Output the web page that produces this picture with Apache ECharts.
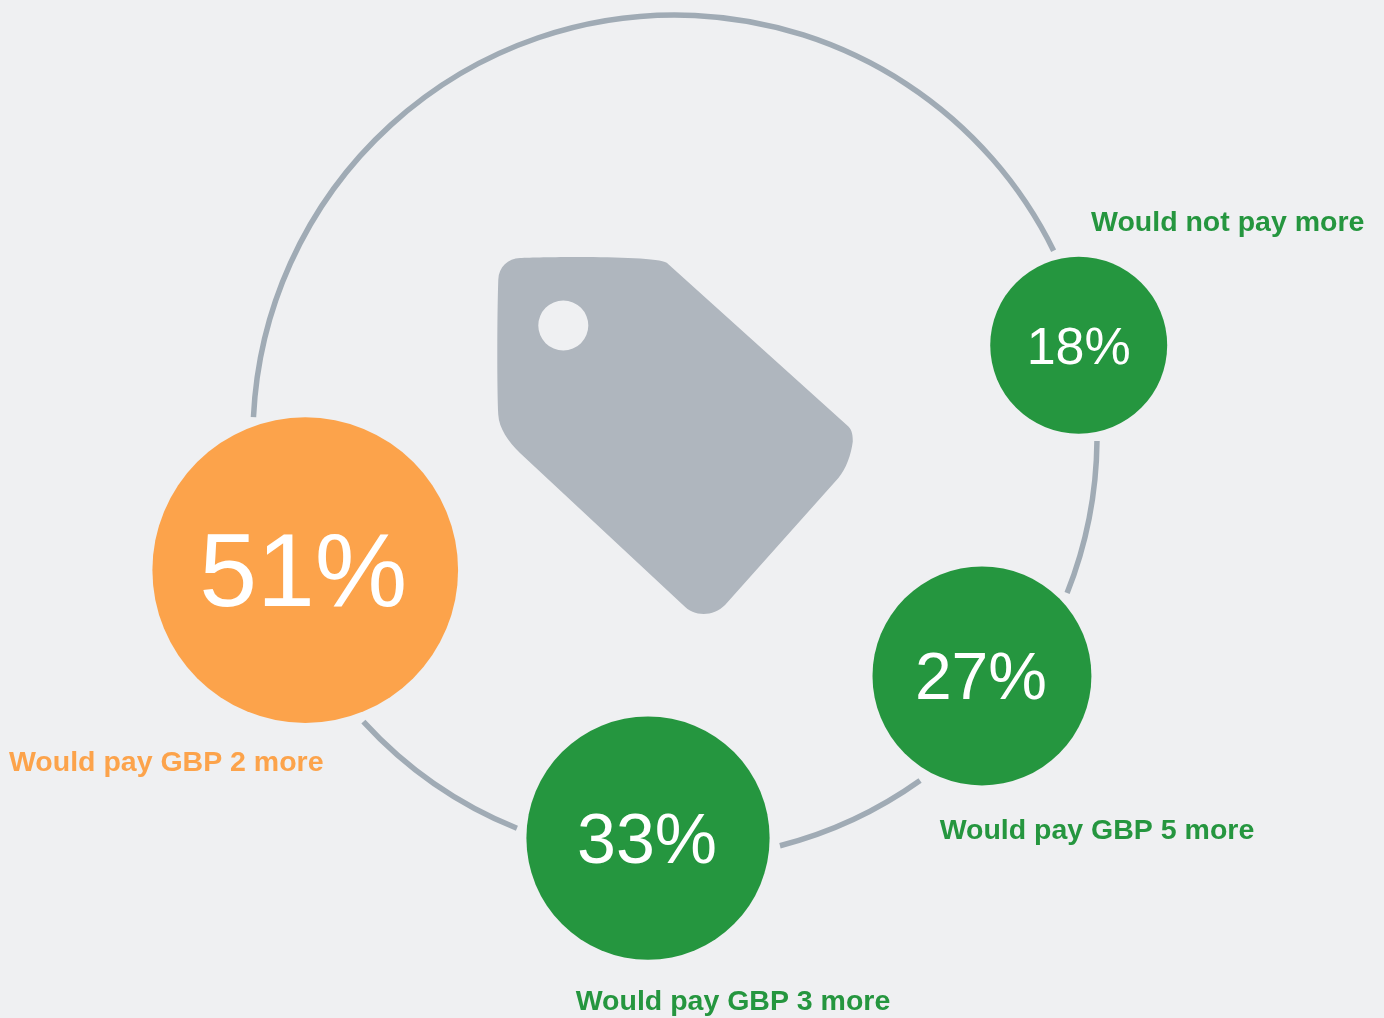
<!DOCTYPE html>
<html>
<head>
<meta charset="utf-8">
<style>
  html, body { margin: 0; padding: 0; background: #eff0f2; }
  #chart { width: 1384px; height: 1018px; }
</style>
<script src="https://cdn.jsdelivr.net/npm/echarts@6/dist/echarts.min.js"></script>
</head>
<body>
<div id="chart"></div>
<script>
// Survey answers: share of respondents by how much more they would pay
const answers = ['Would not pay more', 'Would pay GBP 5 more', 'Would pay GBP 3 more', 'Would pay GBP 2 more'];
const shares = [18, 27, 33, 51];
const highlighted = [false, false, false, true];

// Where each bubble sits on the polar plane
const bubbleRadii = [414, 389, 402, 393];
const bubbleAngles = [12.8, 322.1, 266.15, 199.8];

// Ring pieces between the bubbles, in degrees
const ringSegments = [[26.2, 177.3], [338.3, 359.46], [284.4, 305.5], [222.4, 248]];

// Presentation
const GREEN = '#25963f';
const ORANGE = '#fca34b';
const RING_RADIUS = 422;
const percentFontSizes = [52, 66, 70, 104];
const percentOffsets = [[0, 4], [-1, 5], [-1, 6], [-2, 7]];
const captionOffsets = [[149, -122], [115, 155], [85, 164], [-139, 193]];
const diameter = share => 38.8 * Math.pow(share, 0.525);

const bubbleData = shares.map((share, i) => ({
  name: answers[i],
  value: [bubbleRadii[i], bubbleAngles[i], share],
  symbolSize: diameter(share),
  itemStyle: { color: highlighted[i] ? ORANGE : GREEN, opacity: 1 },
  label: { fontSize: percentFontSizes[i], offset: percentOffsets[i] }
}));

const captionData = shares.map((share, i) => ({
  name: answers[i],
  value: [bubbleRadii[i], bubbleAngles[i], share],
  label: { offset: captionOffsets[i], color: highlighted[i] ? ORANGE : GREEN }
}));

// Price tag outline with its punched hole
const tagPath =
  'M498.3 280 C498.8 267 508 258.8 520 258.3 C545 257 655 255.5 666.7 263 ' +
  'L848.3 426.5 C852 430 852.8 436 852.7 441.7 C851 455 846 469 838.3 478 ' +
  'L725 605 C713 617 694 617 683 605 L520 453 C508 442 499 428 498.3 415 ' +
  'C497 385 497 320 498.3 280 Z ' +
  'M538.3 325.7 A25 25 0 0 0 588.3 325.7 A25 25 0 0 0 538.3 325.7 Z';
const tagBox = { x: 497.3, y: 257, width: 355.5, height: 357 };

const chart = echarts.init(document.getElementById('chart'), null, { renderer: 'canvas' });
chart.setOption({
  animation: false,
  backgroundColor: '#eff0f2',
  polar: { center: [675, 437], radius: RING_RADIUS },
  angleAxis: { type: 'value', min: 0, max: 360, startAngle: 0, clockwise: false, show: false },
  radiusAxis: { type: 'value', min: 0, max: RING_RADIUS, show: false },
  series: [
    {
      type: 'custom',
      coordinateSystem: 'none',
      silent: true,
      z: 1,
      data: [[0]],
      renderItem() {
        return {
          type: 'path',
          shape: { pathData: tagPath, layout: 'cover', ...tagBox },
          style: { fill: '#afb6be' }
        };
      }
    },
    {
      type: 'custom',
      coordinateSystem: 'polar',
      silent: true,
      clip: false,
      z: 2,
      data: ringSegments,
      renderItem(params, api) {
        const sys = params.coordSys;
        return {
          type: 'arc',
          shape: {
            cx: sys.cx,
            cy: sys.cy,
            r: sys.r,
            startAngle: -api.value(1) * Math.PI / 180,
            endAngle: -api.value(0) * Math.PI / 180,
            clockwise: true
          },
          style: { fill: null, stroke: '#a0abb5', lineWidth: 5.5, lineCap: 'butt' }
        };
      }
    },
    {
      type: 'scatter',
      coordinateSystem: 'polar',
      silent: true,
      z: 3,
      data: bubbleData,
      label: {
        show: true,
        position: 'inside',
        color: '#ffffff',
        fontFamily: '"Liberation Sans", Arial, sans-serif',
        formatter: p => p.value[2] + '%'
      }
    },
    {
      type: 'scatter',
      coordinateSystem: 'polar',
      silent: true,
      z: 4,
      symbolSize: 1,
      itemStyle: { color: 'transparent', opacity: 1 },
      data: captionData,
      label: {
        show: true,
        position: 'inside',
        fontFamily: '"Liberation Sans", Arial, sans-serif',
        fontWeight: 'bold',
        fontSize: 28.5,
        formatter: p => p.name
      }
    }
  ]
});
</script>
</body>
</html>
